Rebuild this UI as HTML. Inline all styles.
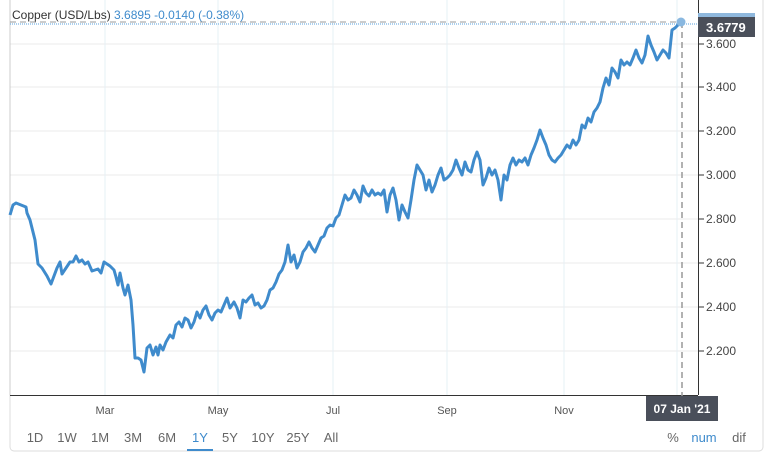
<!DOCTYPE html>
<html><head><meta charset="utf-8"><style>
html,body{margin:0;padding:0;background:#fff;}
body{width:768px;height:462px;overflow:hidden;font-family:"Liberation Sans",Arial,sans-serif;}
</style></head><body>
<svg width="768" height="462" viewBox="0 0 768 462" xmlns="http://www.w3.org/2000/svg" font-family="Liberation Sans, Arial, sans-serif">
<rect x="10" y="-5" width="753" height="456" rx="4" fill="#fff" stroke="#dcdcdc"/>
<g stroke="#ebebeb" stroke-width="1">
<line x1="10" y1="44" x2="698" y2="44"/><line x1="10" y1="87" x2="698" y2="87"/>
<line x1="10" y1="131" x2="698" y2="131"/><line x1="10" y1="175" x2="698" y2="175"/>
<line x1="10" y1="219" x2="698" y2="219"/><line x1="10" y1="263" x2="698" y2="263"/>
<line x1="10" y1="307" x2="698" y2="307"/><line x1="10" y1="351" x2="698" y2="351"/>
</g>
<g stroke="#e6f0f5" stroke-width="1">
<line x1="105" y1="0" x2="105" y2="395"/><line x1="218" y1="0" x2="218" y2="395"/>
<line x1="333" y1="0" x2="333" y2="395"/><line x1="447" y1="0" x2="447" y2="395"/>
<line x1="564" y1="0" x2="564" y2="395"/><line x1="677" y1="0" x2="677" y2="395"/>
</g>
<line x1="10" y1="0" x2="10" y2="395" stroke="#ccc"/>
<line x1="10" y1="395.5" x2="698" y2="395.5" stroke="#333"/>
<line x1="698.5" y1="0" x2="698.5" y2="395" stroke="#333"/>
<g stroke="#333"><line x1="698" y1="44" x2="704" y2="44"/><line x1="698" y1="87" x2="704" y2="87"/><line x1="698" y1="131" x2="704" y2="131"/><line x1="698" y1="175" x2="704" y2="175"/><line x1="698" y1="219" x2="704" y2="219"/><line x1="698" y1="263" x2="704" y2="263"/><line x1="698" y1="307" x2="704" y2="307"/><line x1="698" y1="351" x2="704" y2="351"/></g>
<g font-size="12" fill="#444">
<text x="706" y="48">3.600</text><text x="706" y="91">3.400</text><text x="706" y="135">3.200</text><text x="706" y="179">3.000</text><text x="706" y="223">2.800</text><text x="706" y="267">2.600</text><text x="706" y="311">2.400</text><text x="706" y="355">2.200</text>
</g>
<line x1="10" y1="22" x2="681" y2="22" stroke="#999" stroke-dasharray="6,4"/>
<line x1="10" y1="24" x2="698" y2="24" stroke="#5aa0dc" stroke-dasharray="1,1"/>
<line x1="682" y1="22" x2="682" y2="418" stroke="#999" stroke-dasharray="6,4" stroke-width="1.5"/>
<polyline fill="none" stroke="#3f8bcc" stroke-width="3" stroke-linejoin="round" points="10,215 13,205 16,203 26,207 27,213 30,220 35,240 38,264 42,268 47,276 51,284 54,276 57,268 60,262 62,274 66,268 70,262 73,262 76,256 79,262 82,260 85,264 88,262 92,271 95,270 98,269 101,273 104,262 107,264 110,266 114,270 116,277 118,285 120,273 123,288 125,295 128,285 131,300 133,325 135,358 138,358 141,360 144,372 147,348 150,345 153,355 156,347 158,355 160,345 163,350 166,342 170,335 173,338 176,325 179,322 182,327 185,318 188,320 191,328 194,322 197,312 200,318 203,310 206,306 209,315 212,320 215,313 218,310 221,312 224,305 227,298 230,308 234,302 237,308 240,318 243,300 246,302 249,298 252,295 255,305 258,303 261,308 264,306 267,300 270,290 273,288 276,282 279,274 282,270 285,262 288,245 291,262 294,255 297,268 300,262 303,252 306,248 309,242 312,248 315,252 318,245 321,238 324,236 327,228 330,225 333,226 336,218 339,215 342,205 345,195 348,200 351,198 354,190 357,195 360,202 363,186 366,193 369,196 372,190 375,195 378,193 381,195 384,190 387,212 390,195 393,188 396,200 399,220 402,205 405,212 408,218 411,200 414,180 417,165 420,170 423,175 426,190 429,180 432,192 435,185 438,175 441,168 444,180 447,178 450,175 453,170 456,160 459,168 462,175 465,162 468,170 471,172 474,160 477,152 480,160 483,185 486,178 489,168 492,175 495,170 498,180 501,200 504,175 507,180 510,165 513,158 516,165 519,160 522,162 525,158 528,165 531,155 534,148 537,140 540,130 543,138 546,145 549,155 552,160 555,162 558,158 561,155 564,150 567,145 570,148 573,140 576,145 579,140 582,125 585,128 588,118 591,122 594,112 597,108 600,102 603,88 606,78 609,85 612,68 615,72 618,78 621,60 624,65 627,62 630,65 633,58 636,50 639,58 642,63 645,55 648,36 651,45 654,52 657,60 660,55 663,50 666,53 669,58 672,30 675,28 678,25 681,22"/>
<circle cx="681" cy="22" r="4.5" fill="#8ab8e0"/>
<rect x="698" y="13" width="57" height="4" fill="#8fb8dd"/>
<rect x="698" y="17" width="57" height="20" fill="#4a4f5a"/>
<text x="706" y="32" font-size="13" font-weight="bold" fill="#fff">3.6779</text>
<text x="12" y="19" font-size="12" fill="#333">Copper (USD/Lbs) <tspan fill="#3f8bcc">3.6895  -0.0140 (-0.38%)</tspan></text>
<g font-size="11" fill="#555" text-anchor="middle">
<text x="105" y="414">Mar</text><text x="218" y="414">May</text><text x="333" y="414">Jul</text><text x="447" y="414">Sep</text><text x="564" y="414">Nov</text>
</g>
<rect x="646" y="396" width="72" height="25" fill="#4a4f5a"/>
<text x="682" y="413" font-size="12" font-weight="bold" fill="#fff" text-anchor="middle">07 Jan '21</text>
<g font-size="13" fill="#666" text-anchor="middle">
<text x="35" y="442">1D</text><text x="67" y="442">1W</text><text x="100" y="442">1M</text><text x="133" y="442">3M</text><text x="167" y="442">6M</text><text x="200" y="442" fill="#3f8bcc">1Y</text><text x="230" y="442">5Y</text><text x="263" y="442">10Y</text><text x="298" y="442">25Y</text><text x="331" y="442">All</text>
<text x="673" y="442">%</text><text x="704" y="442" fill="#3f8bcc">num</text><text x="739" y="442">dif</text>
</g>
<rect x="187" y="449" width="26" height="2" fill="#3f8bcc"/>
</svg>
</body></html>
